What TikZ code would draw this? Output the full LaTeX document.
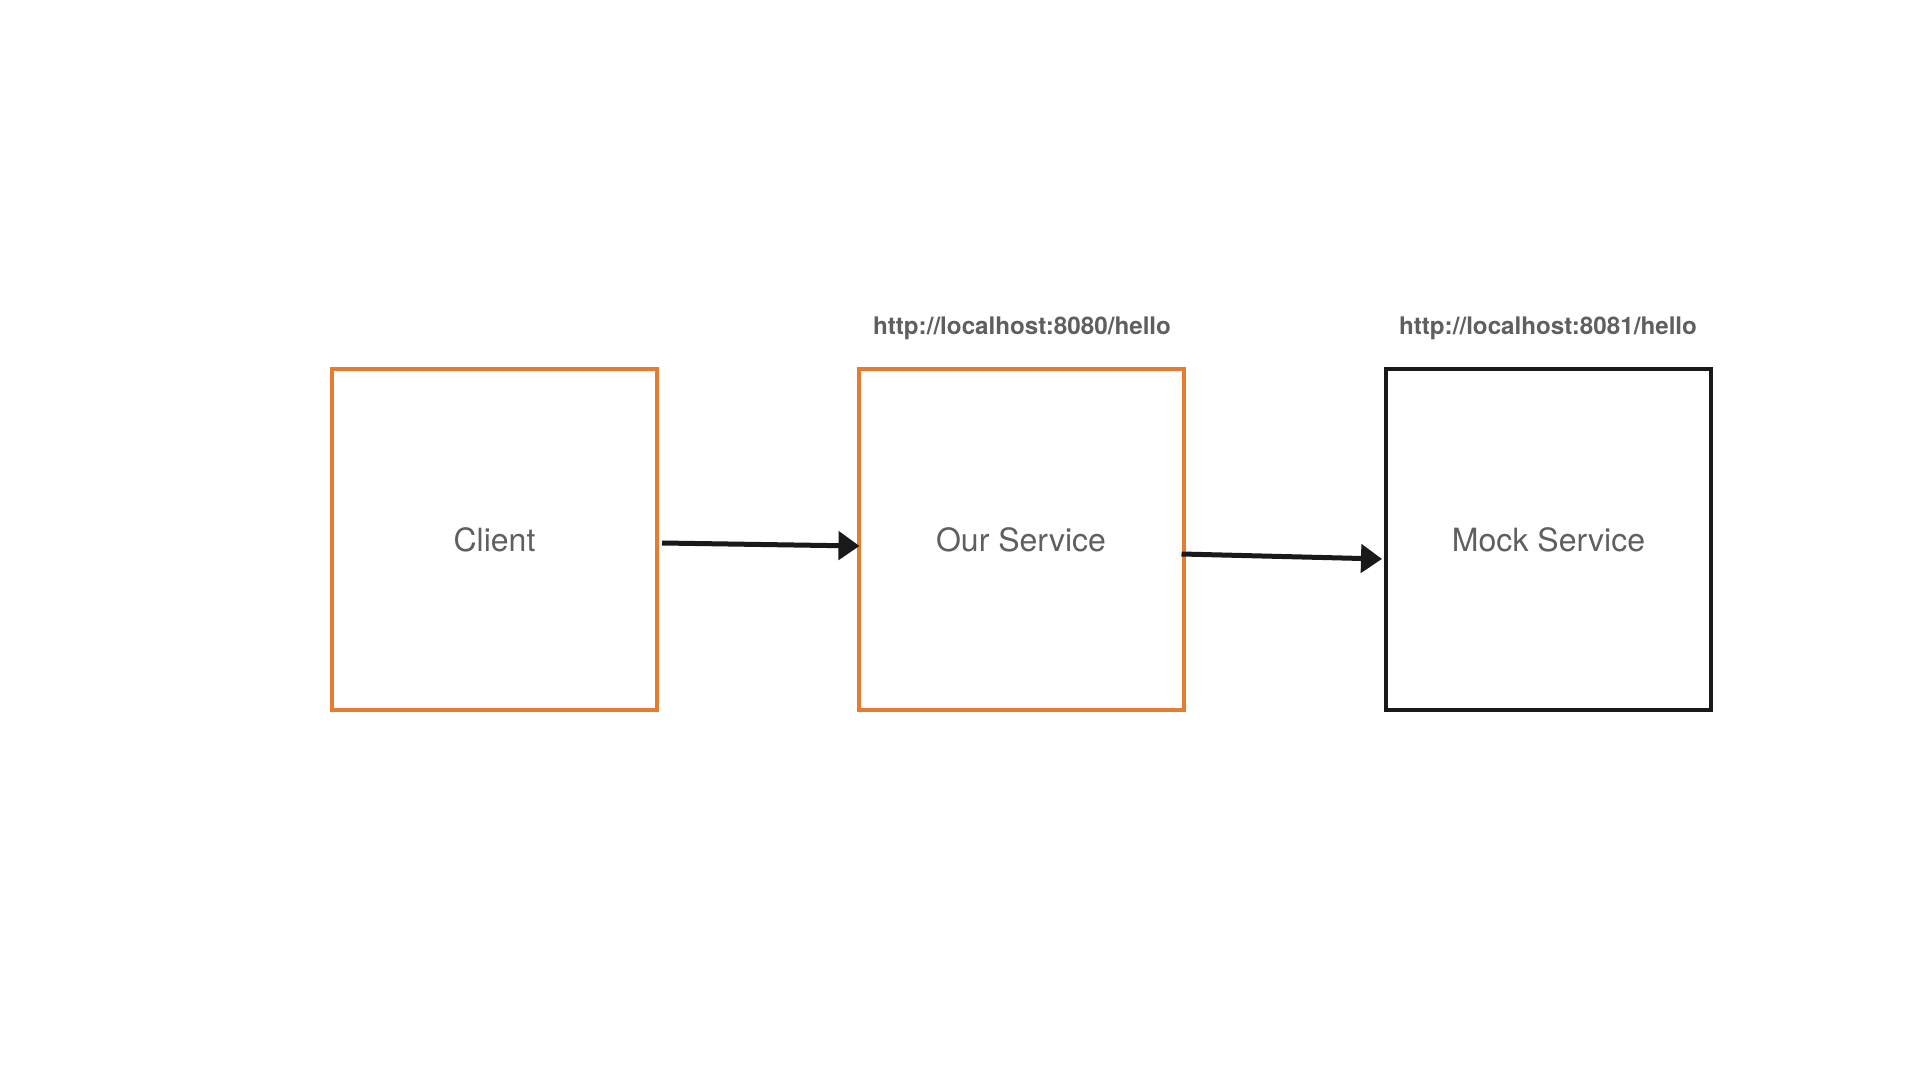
\documentclass[tikz,border=0pt]{standalone}
\usepackage{fontspec}
\setmainfont{TeX Gyre Heros}
\usetikzlibrary{arrows.meta}
\definecolor{sketchorange}{HTML}{E67C30}
\definecolor{labelgrey}{HTML}{5F5F5F}
\tikzset{
  box/.style={draw, line width=4pt, minimum width=325pt, minimum height=341pt, inner sep=0pt,
              text=labelgrey, font=\fontsize{32}{36}\selectfont},
  orangebox/.style={box, draw=sketchorange},
  blackbox/.style={box, draw=black!90},
  url/.style={text=labelgrey, font=\bfseries\fontsize{24.2}{28}\selectfont, inner sep=0pt},
  conn/.style={draw=black!90, line width=5pt, -{Triangle[length=21pt,width=28pt]}},
}
\begin{document}
\begin{tikzpicture}[x=1pt,y=1pt]
  \useasboundingbox[fill=white] (0,0) rectangle (1920,1080);
  \node[orangebox] (client) at (494.5,540) {Client};
  \node[orangebox] (ours) at (1021,540) {Our Service};
  \node[blackbox] (mock) at (1548.5,540) {Mock Service};
  \node[url] (urlours) at (1022,752) {http://localhost:8080/hello};
  \node[url] (urlmock) at (1548,752) {http://localhost:8081/hello};
  \draw[conn] ([xshift=3pt,yshift=-3pt]client.east) -- ([xshift=3pt,yshift=-6pt]ours.west);
  \draw[conn] ([xshift=-4pt,yshift=-14pt]ours.east) -- ([xshift=-2pt,yshift=-19pt]mock.west);
\end{tikzpicture}
\end{document}
